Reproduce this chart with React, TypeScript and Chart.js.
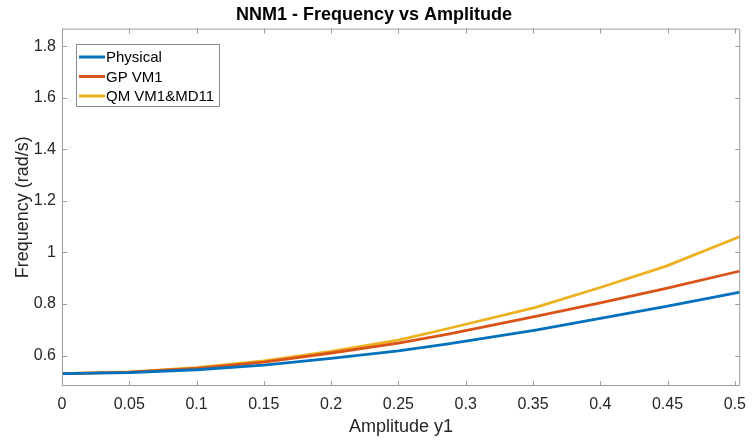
import React, { useEffect, useRef } from "react";
import { Chart, registerables } from "chart.js";

Chart.register(...registerables);

const amplitude = [0, 0.05, 0.1, 0.15, 0.2, 0.25, 0.287, 0.352, 0.4, 0.449, 0.504];
const physical = [0.53, 0.534, 0.545, 0.563, 0.589, 0.618, 0.645, 0.699, 0.744, 0.791, 0.846];
const gpVM1 = [0.53, 0.536, 0.55, 0.575, 0.61, 0.648, 0.683, 0.752, 0.804, 0.861, 0.928];
const qmVM1MD11 = [0.53, 0.537, 0.553, 0.579, 0.616, 0.66, 0.705, 0.787, 0.864, 0.947, 1.062];

const seriesNames = ["Physical", "GP VM1", "QM VM1&MD11"];
const seriesColors = ["#0072BD", "#D95319", "#EDB120"];

const xTicks = [0, 0.05, 0.1, 0.15, 0.2, 0.25, 0.3, 0.35, 0.4, 0.45, 0.5];
const xTickLabels = ["0", "0.05", "0.1", "0.15", "0.2", "0.25", "0.3", "0.35", "0.4", "0.45", "0.5"];
const yTicks = [0.6, 0.8, 1, 1.2, 1.4, 1.6, 1.8];
const yTickLabels = ["0.6", "0.8", "1", "1.2", "1.4", "1.6", "1.8"];

const FONT = "'Liberation Sans', Arial, Helvetica, sans-serif";

const boxPlugin = {
  id: "matlabBox",
  afterDatasetsDraw(chart: any) {
    const { ctx, chartArea } = chart;
    const { left, right, top, bottom } = chartArea;
    const xs = chart.scales.x;
    const ys = chart.scales.y;
    ctx.save();
    ctx.strokeStyle = "#9c9c9c";
    ctx.lineWidth = 1;
    ctx.beginPath();
    ctx.rect(left + 0.5, top + 0.5, right - left - 1, bottom - top - 1);
    ctx.stroke();
    const tl = 5;
    ctx.beginPath();
    xTicks.forEach((v) => {
      const px = Math.round(xs.getPixelForValue(v)) + 0.5;
      ctx.moveTo(px, bottom);
      ctx.lineTo(px, bottom - tl);
      ctx.moveTo(px, top);
      ctx.lineTo(px, top + tl);
    });
    yTicks.forEach((v) => {
      const py = Math.round(ys.getPixelForValue(v)) + 0.5;
      ctx.moveTo(left, py);
      ctx.lineTo(left + tl, py);
      ctx.moveTo(right, py);
      ctx.lineTo(right - tl, py);
    });
    ctx.stroke();

    // legend
    const lx = 76, ly = 44, lw = 143, lh = 62;
    ctx.fillStyle = "#ffffff";
    ctx.fillRect(lx, ly, lw, lh);
    ctx.strokeStyle = "#8a8a8a";
    ctx.strokeRect(lx + 0.5, ly + 0.5, lw, lh);
    ctx.font = `15px ${FONT}`;
    ctx.textBaseline = "middle";
    ctx.textAlign = "left";
    chart.data.datasets.forEach((ds: any, i: number) => {
      const y = ly + 13 + i * 19.5;
      ctx.strokeStyle = ds.borderColor;
      ctx.lineWidth = 3;
      ctx.beginPath();
      ctx.moveTo(lx + 3, y);
      ctx.lineTo(lx + 29, y);
      ctx.stroke();
      ctx.fillStyle = "#000000";
      ctx.fillText(ds.label, lx + 30, y + 1);
    });
    ctx.restore();
  },
};

export default function App() {
  const ref = useRef<HTMLCanvasElement | null>(null);
  useEffect(() => {
    if (!ref.current) return;
    const seriesValues = [physical, gpVM1, qmVM1MD11];
    const chart = new Chart(ref.current, {
      type: "line",
      data: {
        datasets: seriesValues.map((vals, i) => ({
          label: seriesNames[i],
          data: amplitude.map((a, j) => ({ x: a, y: vals[j] })),
          borderColor: seriesColors[i],
          backgroundColor: seriesColors[i],
          borderWidth: 2.8,
          pointRadius: 0,
          tension: 0,
          fill: false,
        })),
      },
      options: {
        responsive: false,
        animation: false,
        layout: { padding: { left: 0, right: 7, top: 0, bottom: 0 } },
        plugins: {
          legend: { display: false },
          tooltip: { enabled: false },
          title: {
            display: true,
            text: "NNM1 - Frequency vs Amplitude",
            color: "#000000",
            font: { family: FONT, size: 18, weight: "bold" },
            padding: { top: 4, bottom: 3 },
          },
        },
        scales: {
          x: {
            type: "linear",
            min: 0,
            max: 0.504,
            afterBuildTicks: (s: any) => {
              s.ticks = xTicks.map((v) => ({ value: v }));
            },
            afterFit: (s: any) => {
              s.height = 56;
            },
            grid: { display: false, drawTicks: false },
            border: { display: false },
            ticks: {
              autoSkip: false,
              maxRotation: 0,
              padding: 9,
              color: "#262626",
              font: { family: FONT, size: 16 },
              callback: (v: any) => {
                const i = xTicks.findIndex((t) => Math.abs(t - v) < 1e-9);
                return i >= 0 ? xTickLabels[i] : "";
              },
            },
            title: {
              display: true,
              text: "Amplitude y1",
              color: "#262626",
              font: { family: FONT, size: 18 },
              padding: { top: 0, bottom: 4 },
            },
          },
          y: {
            type: "linear",
            min: 0.482,
            max: 1.868,
            afterBuildTicks: (s: any) => {
              s.ticks = yTicks.map((v) => ({ value: v }));
            },
            afterFit: (s: any) => {
              s.width = 62;
            },
            grid: { display: false, drawTicks: false },
            border: { display: false },
            ticks: {
              autoSkip: false,
              padding: 6,
              color: "#262626",
              font: { family: FONT, size: 16 },
              callback: (v: any) => {
                const i = yTicks.findIndex((t) => Math.abs(t - v) < 1e-9);
                return i >= 0 ? yTickLabels[i] : "";
              },
            },
            title: {
              display: true,
              text: "Frequency (rad/s)",
              color: "#262626",
              font: { family: FONT, size: 18 },
              padding: { top: 12, bottom: 0 },
            },
          },
        },
      },
      plugins: [boxPlugin],
    });
    return () => chart.destroy();
  }, []);
  return (
    <div style={{ position: "absolute", left: 0, top: 0, width: 755, height: 442, background: "#fff" }}>
      <canvas ref={ref} width={755} height={442} style={{ display: "block" }} />
    </div>
  );
}
